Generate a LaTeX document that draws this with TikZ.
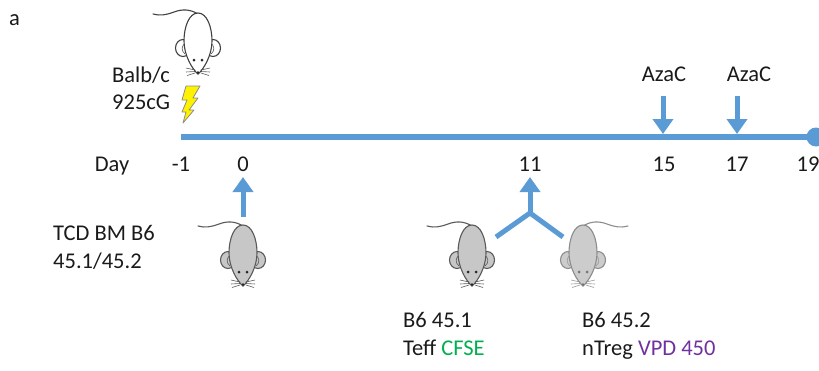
\documentclass[tikz,border=0pt]{standalone}
\usepackage{fontspec}
\setmainfont{Carlito}
\usetikzlibrary{arrows.meta}

\definecolor{tlblue}{HTML}{5B9BD5}
\definecolor{cfsegreen}{HTML}{00B050}
\definecolor{vpdpurple}{HTML}{7030A0}
\definecolor{txt}{HTML}{1A1A1A}
\definecolor{boltyellow}{HTML}{FFF200}

\tikzset{
  lbl/.style={inner sep=0pt, anchor=base, text=txt, font=\fontsize{22.5}{27}\selectfont},
  lblw/.style={lbl, anchor=base west},
  tline/.style={draw=tlblue, line width=5.5pt},
  tarrow/.style={draw=tlblue, line width=5pt, -{Triangle[width=20pt,length=15pt]}},
  tbranch/.style={draw=tlblue, line width=5pt, line join=miter},
  % mouse looks (overridden per mouse)
  mline/.style={draw=black!65, fill=black!22, line width=1.1pt},
  mtail/.style={draw=black!65, line width=1.1pt, line cap=round},
  mdot/.style={fill=black!85},
  mwhisk/.style={draw=black!65, line width=0.6pt},
  mouse/.pic={
    % tail
    \draw[mtail] (0,1) .. controls (-8,-4) and (-16,-4) .. (-24,-1)
                       .. controls (-32,2) and (-38,3) .. (-45,1);
    % ears
    \draw[mline] (-15,35) ellipse [x radius=7.5pt, y radius=8.5pt];
    \draw[mline] (15,35) ellipse [x radius=7.5pt, y radius=8.5pt];
    \draw[mwhisk] (-12,30) .. controls (-17,32) and (-17,38) .. (-13,41);
    \draw[mwhisk] (12,30) .. controls (17,32) and (17,38) .. (13,41);
    % body
    \draw[mline] (0,0) .. controls (9,0) and (14,14) .. (14,28)
                 .. controls (14,42) and (6,56) .. (0,61)
                 .. controls (-6,56) and (-14,42) .. (-14,28)
                 .. controls (-14,14) and (-9,0) .. (0,0) -- cycle;
    % eyes and nose
    \fill[mdot] (-4,47) circle [radius=1.5pt];
    \fill[mdot] (4,47) circle [radius=1.5pt];
    \fill[mdot] (0,59.5) circle [radius=1.4pt];
    % whiskers
    \draw[mwhisk] (-3,57) -- (-12,55) (-3,58.5) -- (-12,59) (-3,60) -- (-11,62.5);
    \draw[mwhisk] (3,57) -- (12,55) (3,58.5) -- (12,59) (3,60) -- (11,62.5);
  }
}

\begin{document}
\begin{tikzpicture}[x=1pt, y=-1pt]
\useasboundingbox (0,0) rectangle (819,370);

% panel letter
\node[lblw] (panel) at (9,25) {a};

% recipient mouse and irradiation
\pic[mline/.style={draw=black!75, fill=white, line width=1.1pt},
     mtail/.style={draw=black!75, line width=1.1pt, line cap=round}]
     at (198,13) {mouse};
\node[lblw] (balb) at (112,82) {Balb/c};
\node[lblw] (dose) at (112,109) {925cG};
\draw[draw=black!45, fill=boltyellow, line width=0.8pt, line join=round]
  (186,86) -- (200,86) -- (193,98) -- (198,98) -- (189,110) -- (194,110)
  -- (183,123) -- (186,112) -- (182,112) -- (187,100) -- (182,100) -- cycle;

% time line
\coordinate (tstart) at (181,137);
\coordinate (tend) at (816,137);
\draw[tline] (tstart) -- (tend);
\fill[tlblue] (tend) circle [radius=9.5pt];

% day labels
\node[lbl] (day) at (112,171) {Day};
\node[lbl] (dm1) at (181,171) {-1};
\node[lbl] (d0) at (243,171) {0};
\node[lbl] (d11) at (530,171) {11};
\node[lbl] (d15) at (664,171) {15};
\node[lbl] (d17) at (737,171) {17};
\node[lbl] (d19) at (808,171) {19};

% AzaC injections
\node[lbl] (aza1) at (664,81) {AzaC};
\node[lbl] (aza2) at (749,81) {AzaC};
\coordinate (a1s) at (663,96);  \coordinate (a1e) at (663,134);
\coordinate (a2s) at (737,96);  \coordinate (a2e) at (737,134);
\draw[tarrow] (a1s) -- (a1e);
\draw[tarrow] (a2s) -- (a2e);

% day 0: bone marrow transfer
\coordinate (b0s) at (243,217); \coordinate (b0e) at (243,177);
\draw[tarrow] (b0s) -- (b0e);
\pic at (243,225) {mouse};
\node[lblw] (tcd1) at (53,240) {TCD BM B6};
\node[lblw] (tcd2) at (53,268) {45.1/45.2};

% day 11: Teff + nTreg transfer
\coordinate (jn) at (530,213);
\coordinate (brl) at (496,237);
\coordinate (brr) at (563,237);
\coordinate (b11e) at (530,177);
\draw[tbranch] (brl) -- (jn) -- (brr);
\draw[tarrow] (jn) -- (b11e);
\pic at (472,225) {mouse};
\pic[xscale=-1,
     mline/.style={draw=black!45, fill=black!20, line width=1.1pt},
     mtail/.style={draw=black!45, line width=1.1pt, line cap=round},
     mdot/.style={fill=black!55},
     mwhisk/.style={draw=black!40, line width=0.6pt}]
     at (583,225) {mouse};

\node[lblw] (teff1) at (403,327) {B6 45.1};
\node[lblw] (teff2) at (403,355) {Teff \textcolor{cfsegreen}{CFSE}};
\node[lblw] (treg1) at (582,327) {B6 45.2};
\node[lblw] (treg2) at (582,355) {nTreg \textcolor{vpdpurple}{VPD 450}};
\end{tikzpicture}
\end{document}
